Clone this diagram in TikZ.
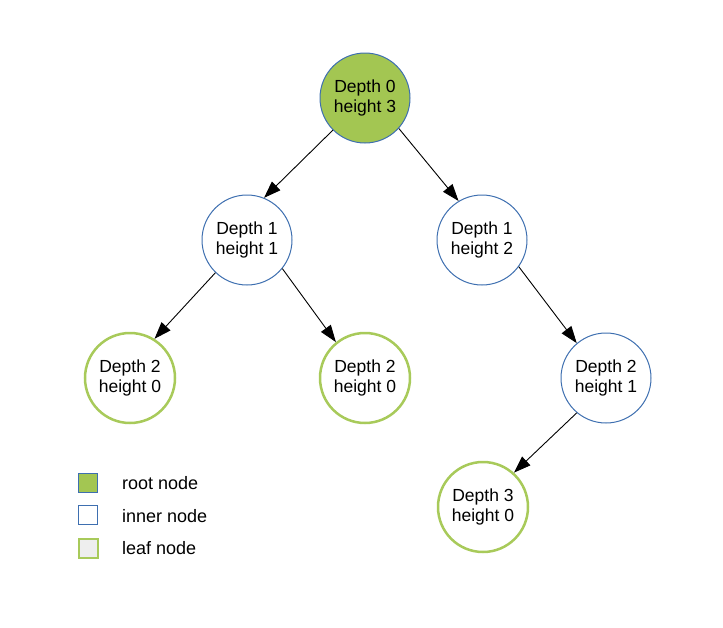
\documentclass[tikz,border=0pt]{standalone}
\usepackage{fontspec}
\setmainfont{Liberation Sans}
\usetikzlibrary{arrows.meta}
\definecolor{rootfill}{RGB}{163,198,82}
\definecolor{bordblue}{RGB}{62,111,176}
\definecolor{leafgreen}{RGB}{168,202,90}
\definecolor{leaffill}{RGB}{238,238,238}
\tikzset{
  treenode/.style={circle, minimum size=90pt, inner sep=0pt, align=center,
    font=\fontsize{17.5}{20.5}\selectfont},
  rootnode/.style={treenode, draw=bordblue, line width=1pt, fill=rootfill},
  innernode/.style={treenode, draw=bordblue, line width=1pt, fill=white},
  leafnode/.style={treenode, draw=leafgreen, line width=2.5pt, fill=white},
  edge/.style={draw=black, line width=0.9pt, -{Triangle[length=17pt,width=12pt]}},
  legbox/.style={minimum size=19pt, inner sep=0pt},
  legtext/.style={anchor=west, inner sep=0pt, font=\fontsize{18}{21}\selectfont}
}
\begin{document}
\begin{tikzpicture}[x=1pt,y=-1pt]
\useasboundingbox (0,0) rectangle (723,627);
\node[rootnode] (r) at (365,98) {Depth 0\\height 3};
\node[innernode] (a) at (247,240) {Depth 1\\height 1};
\node[innernode] (b) at (482,240) {Depth 1\\height 2};
\node[leafnode] (c) at (130,378) {Depth 2\\height 0};
\node[leafnode] (d) at (365,378) {Depth 2\\height 0};
\node[innernode] (e) at (606,378) {Depth 2\\height 1};
\node[leafnode] (f) at (483,507) {Depth 3\\height 0};
\draw[edge] (r.225) -- (a.68);
\draw[edge] (r.318) -- (b.121);
\draw[edge] (a.226) -- (c.58);
\draw[edge] (a.321) -- (d.129);
\draw[edge] (b.324) -- (e.130);
\draw[edge] (e.230) -- (f.48);
\node[legbox, draw=bordblue, line width=1pt, fill=rootfill] (l1) at (88,483) {};
\node[legbox, draw=bordblue, line width=1pt, fill=white] (l2) at (88,515) {};
\node[legbox, draw=leafgreen, line width=2pt, fill=leaffill] (l3) at (88,548) {};
\node[legtext] (t1) at (122,483) {root node};
\node[legtext] (t2) at (122,516) {inner node};
\node[legtext] (t3) at (122,548) {leaf node};
\end{tikzpicture}
\end{document}
